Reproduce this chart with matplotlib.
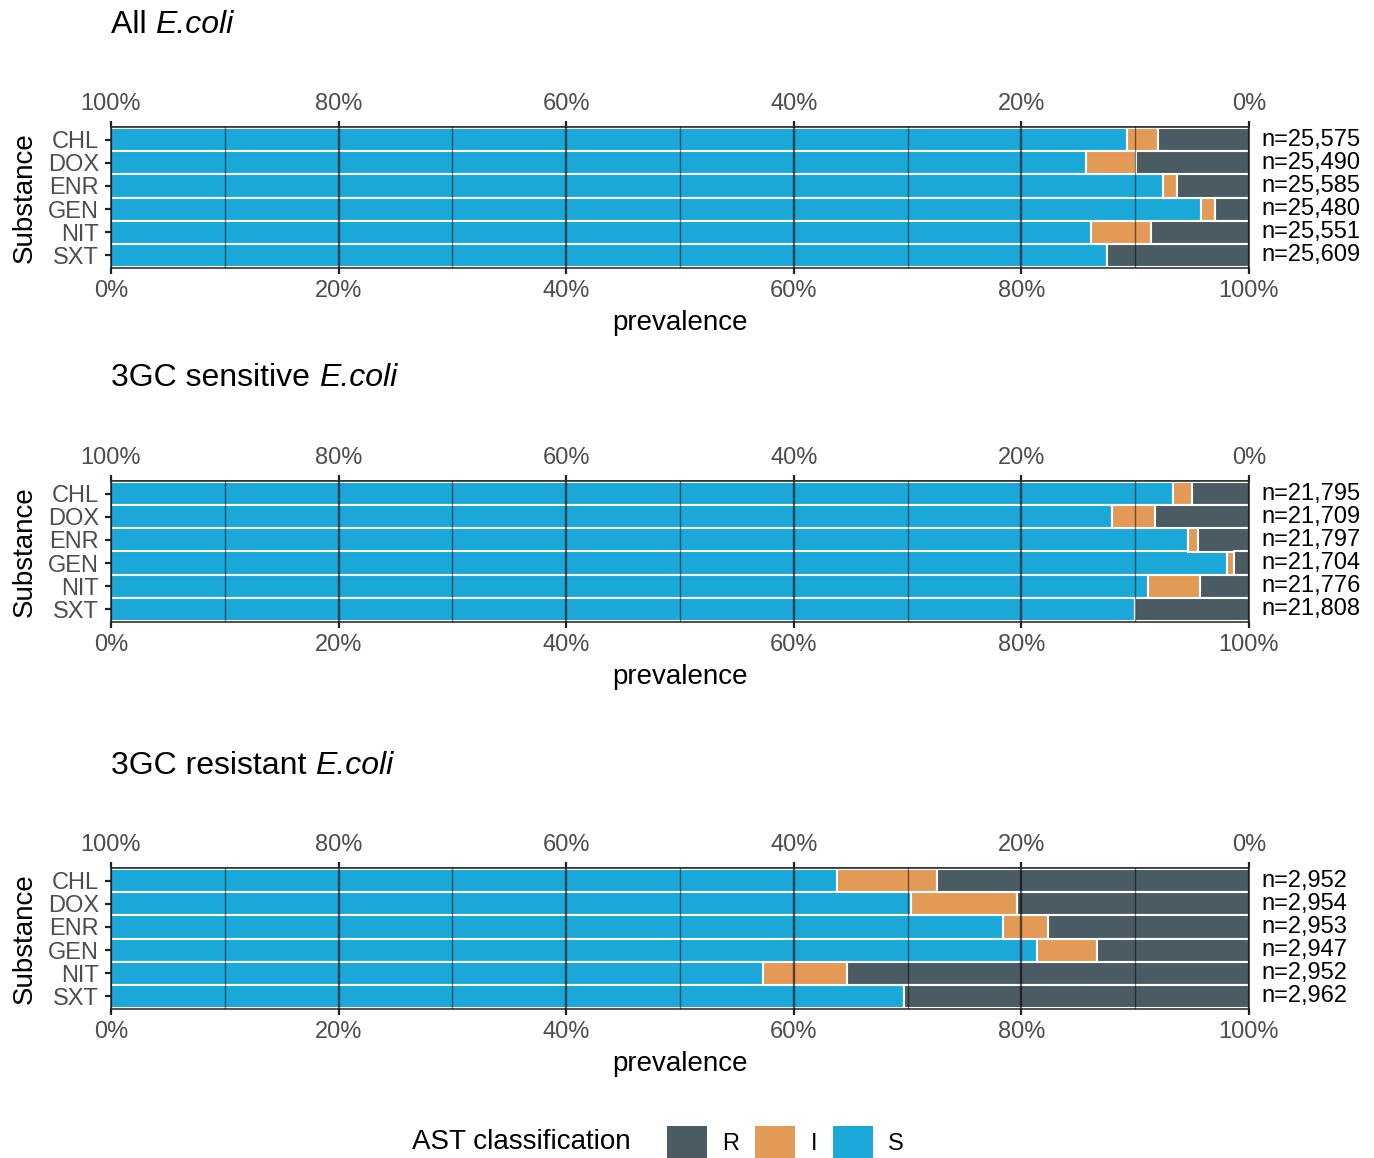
""" AST classification of E.coli per substance (stacked prevalence bars)
"""
import matplotlib
matplotlib.use('Agg')
import matplotlib.pyplot as plt
from matplotlib.patches import Patch
from matplotlib.ticker import PercentFormatter

plt.rcParams['font.family'] = ['Liberation Sans', 'DejaVu Sans']

# data
substances = ['CHL', 'DOX', 'ENR', 'GEN', 'NIT', 'SXT']
title_pre = ['All ', '3GC sensitive ', '3GC resistant ']
title_bug = 'E.coli'
# percent S / I / R per panel
s_all = [89.3, 85.7, 92.4, 95.8, 86.1, 87.5]
i_all = [2.7, 4.4, 1.3, 1.2, 5.3, 0.0]
r_all = [8.0, 9.9, 6.3, 3.0, 8.6, 12.5]
n_all = [25575, 25490, 25585, 25480, 25551, 25609]

s_sens = [93.3, 88.0, 94.6, 98.1, 91.1, 90.0]
i_sens = [1.7, 3.7, 0.9, 0.6, 4.6, 0.0]
r_sens = [5.0, 8.3, 4.5, 1.3, 4.3, 10.0]
n_sens = [21795, 21709, 21797, 21704, 21776, 21808]

s_res = [63.8, 70.3, 78.4, 81.4, 57.3, 69.7]
i_res = [8.8, 9.3, 3.9, 5.2, 7.4, 0.0]
r_res = [27.4, 20.4, 17.7, 13.4, 35.3, 30.3]
n_res = [2952, 2954, 2953, 2947, 2952, 2962]

panels = [(s_all, i_all, r_all, n_all),
          (s_sens, i_sens, r_sens, n_sens),
          (s_res, i_res, r_res, n_res)]

major_ticks = [0, 20, 40, 60, 80, 100]
minor_ticks = [10, 30, 50, 70, 90]

# plot config
col_s = '#19a8d8'
col_i = '#e39a56'
col_r = '#4b5b63'
col_tick = '#4d4d4d'
fsize_tick = 17
fsize_label = 20
fsize_title = 23
W, H = 1374, 1158

fig = plt.figure(figsize=(W / 100, H / 100), dpi=100)
ax_left = 111 / W
ax_w = 1138 / W
ax_tops = [127, 481, 868]
ax_h_px = 141
title_ys = [25, 378, 766]

for k, (s, i, r, n) in enumerate(panels):
    top = ax_tops[k]
    ax = fig.add_axes([ax_left, 1 - (top + ax_h_px) / H, ax_w, ax_h_px / H])
    y = list(range(len(substances)))
    left_i = [sv for sv in s]
    left_r = [sv + iv for sv, iv in zip(s, i)]
    ax.barh(y, s, height=1.0, color=col_s, edgecolor='white', linewidth=1.5)
    ax.barh(y, i, left=left_i, height=1.0, color=col_i, edgecolor='white', linewidth=1.5)
    ax.barh(y, r, left=left_r, height=1.0, color=col_r, edgecolor='white', linewidth=1.5)
    ax.set_xlim(0, 100)
    ax.set_ylim(len(substances) - 0.45, -0.55)
    ax.set_yticks(y)
    ax.set_yticklabels(substances)
    ax.set_xticks(major_ticks)
    ax.set_xticks(minor_ticks, minor=True)
    ax.xaxis.set_major_formatter(PercentFormatter(decimals=0))
    ax.set_axisbelow(False)
    ax.grid(axis='x', which='major', color='black', alpha=0.6, linewidth=1.7)
    ax.grid(axis='x', which='minor', color='black', alpha=0.5, linewidth=1.0)
    ax.tick_params(axis='both', which='major', labelsize=fsize_tick, labelcolor=col_tick,
                   length=4.5, width=1.6, color='#222222', pad=4)
    ax.tick_params(axis='x', which='minor', length=0)
    for sp in ax.spines.values():
        sp.set_color('#333333')
        sp.set_linewidth(1.2)

    # reversed percent axis on top
    sec = ax.secondary_xaxis('top', functions=(lambda x: 100 - x, lambda x: 100 - x))
    sec.set_xticks(major_ticks[::-1])
    sec.xaxis.set_major_formatter(PercentFormatter(decimals=0))
    sec.tick_params(labelsize=fsize_tick, labelcolor=col_tick, length=4.5, width=1.6,
                    color='#222222', pad=4)
    sec.spines['top'].set_color('#333333')
    sec.spines['top'].set_linewidth(1.2)

    ax.set_xlabel('prevalence', fontsize=fsize_label)
    ax.xaxis.set_label_coords(0.5, -0.30)
    ax.set_ylabel('Substance', fontsize=fsize_label)
    ax.yaxis.set_label_coords(-0.064, 0.5)

    for yy, nn in zip(y, n):
        ax.text(1.011, yy, 'n={:,}'.format(nn), transform=ax.get_yaxis_transform(),
                ha='left', va='center', fontsize=fsize_tick, color='black')

    # title: plain prefix + italic organism name
    t = fig.text(ax_left, 1 - title_ys[k] / H, title_pre[k], fontsize=fsize_title,
                 ha='left', va='center')
    ax.annotate(title_bug, xy=(1, 0), xycoords=t, ha='left', va='bottom',
                fontsize=fsize_title, fontstyle='italic', annotation_clip=False)

# legend
fig.text(412 / W, 1 - 1142 / H, 'AST classification', fontsize=fsize_label,
         ha='left', va='center')
handles = [Patch(facecolor=col_r), Patch(facecolor=col_i), Patch(facecolor=col_s)]
fig.legend(handles, ['R', 'I', 'S'], ncol=3, loc='center left',
           bbox_to_anchor=(667 / W, 1 - 1142 / H), frameon=False, fontsize=fsize_tick,
           handlelength=1.7, handleheight=1.7, handletextpad=0.64,
           columnspacing=0.68, borderpad=0, borderaxespad=0)

plt.savefig('out.png', dpi=100)
